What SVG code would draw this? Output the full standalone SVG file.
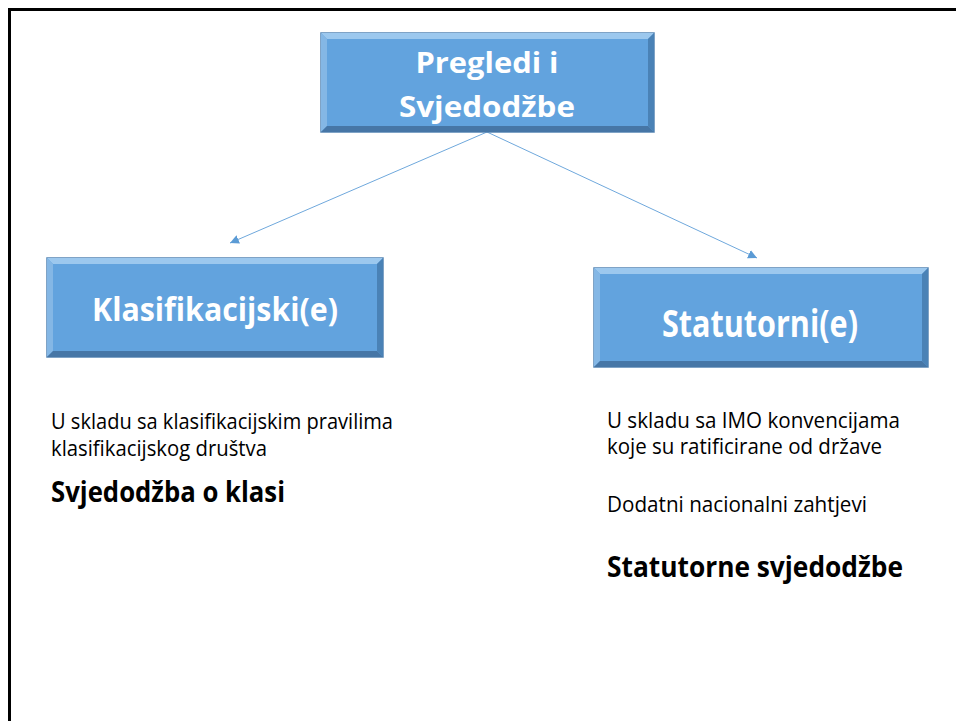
<svg xmlns="http://www.w3.org/2000/svg" width="956" height="721" viewBox="0 0 956 721">
  <style>
    .base { fill: #62A3DE; stroke: #5585B4; stroke-width: 1.5; }
    .bt { fill: #9CC8EE; }
    .bl { fill: #84B7E5; }
    .br { fill: #4A82B6; }
    .bb { fill: #4676A6; }
    .lbl { font-family: "Open Sans", "Liberation Sans", sans-serif; font-weight: bold; fill: #FFFFFF; }
    .body { font-family: "Open Sans", "Liberation Sans", sans-serif; fill: #000000; font-size: 21px; }
    .bold { font-family: "Open Sans", "Liberation Sans", sans-serif; fill: #000000; font-weight: bold; }
    .conn { stroke: #6FA8DC; stroke-width: 1; fill: none; }
  </style>
  <defs>
    <marker id="arr" viewBox="0 0 10 10" refX="10" refY="5" markerWidth="9" markerHeight="9" markerUnits="userSpaceOnUse" orient="auto">
      <path d="M0,0 L10,5 L0,10 z" fill="#5B9BD5"/>
    </marker>
  </defs>
  <rect x="0" y="0" width="956" height="721" fill="#FFFFFF"/>
  <path d="M9.5,721 L9.5,9.5 L956,9.5" fill="none" stroke="#000" stroke-width="3"/>

  <g id="connectors">
    <line class="conn" x1="487" y1="132" x2="230" y2="243" marker-end="url(#arr)"/>
    <line class="conn" x1="487" y1="132" x2="757" y2="258" marker-end="url(#arr)"/>
  </g>

  <g id="node-top">
    <rect class="base" x="321" y="33" width="333" height="99"/>
    <polygon class="bt" points="321,33 654,33 648,39 327,39"/>
    <polygon class="bl" points="321,33 327,39 327,126 321,132"/>
    <polygon class="br" points="654,33 654,132 648,126 648,39"/>
    <polygon class="bb" points="321,132 654,132 648,126 327,126"/>
    <rect x="327" y="39" width="321" height="87" fill="#62A3DE"/>
    <text class="lbl" x="487" y="73" font-size="29" text-anchor="middle" textLength="143" lengthAdjust="spacingAndGlyphs">Pregledi i</text>
    <text class="lbl" x="487" y="117" font-size="29" text-anchor="middle" textLength="176" lengthAdjust="spacingAndGlyphs">Svjedodžbe</text>
  </g>

  <g id="node-klas">
    <rect class="base" x="47" y="258" width="336" height="99"/>
    <polygon class="bt" points="47,258 383,258 377,264 53,264"/>
    <polygon class="bl" points="47,258 53,264 53,351 47,357"/>
    <polygon class="br" points="383,258 383,357 377,351 377,264"/>
    <polygon class="bb" points="47,357 383,357 377,351 53,351"/>
    <rect x="53" y="264" width="324" height="87" fill="#62A3DE"/>
    <text class="lbl" x="215" y="321" font-size="33" text-anchor="middle" textLength="246" lengthAdjust="spacingAndGlyphs">Klasifikacijski(e)</text>
  </g>

  <g id="node-stat">
    <rect class="base" x="594" y="268" width="334" height="99"/>
    <polygon class="bt" points="594,268 928,268 922,274 600,274"/>
    <polygon class="bl" points="594,268 600,274 600,361 594,367"/>
    <polygon class="br" points="928,268 928,367 922,361 922,274"/>
    <polygon class="bb" points="594,367 928,367 922,361 600,361"/>
    <rect x="600" y="274" width="322" height="87" fill="#62A3DE"/>
    <text class="lbl" x="760" y="337" font-size="38" text-anchor="middle" textLength="196" lengthAdjust="spacingAndGlyphs">Statutorni(e)</text>
  </g>

  <g id="text-left">
    <text class="body" x="51" y="429" textLength="342" lengthAdjust="spacingAndGlyphs">U skladu sa klasifikacijskim pravilima</text>
    <text class="body" x="51" y="456" textLength="216" lengthAdjust="spacingAndGlyphs">klasifikacijskog društva</text>
    <text class="bold" x="51" y="502" font-size="29" textLength="234" lengthAdjust="spacingAndGlyphs">Svjedodžba o klasi</text>
  </g>

  <g id="text-right">
    <text class="body" x="607" y="428" textLength="293" lengthAdjust="spacingAndGlyphs">U skladu sa IMO konvencijama</text>
    <text class="body" x="607" y="454" textLength="275" lengthAdjust="spacingAndGlyphs">koje su ratificirane od države</text>
    <text class="body" x="607" y="512" textLength="260" lengthAdjust="spacingAndGlyphs">Dodatni nacionalni zahtjevi</text>
    <text class="bold" x="607" y="577" font-size="29" textLength="296" lengthAdjust="spacingAndGlyphs">Statutorne svjedodžbe</text>
  </g>
</svg>
